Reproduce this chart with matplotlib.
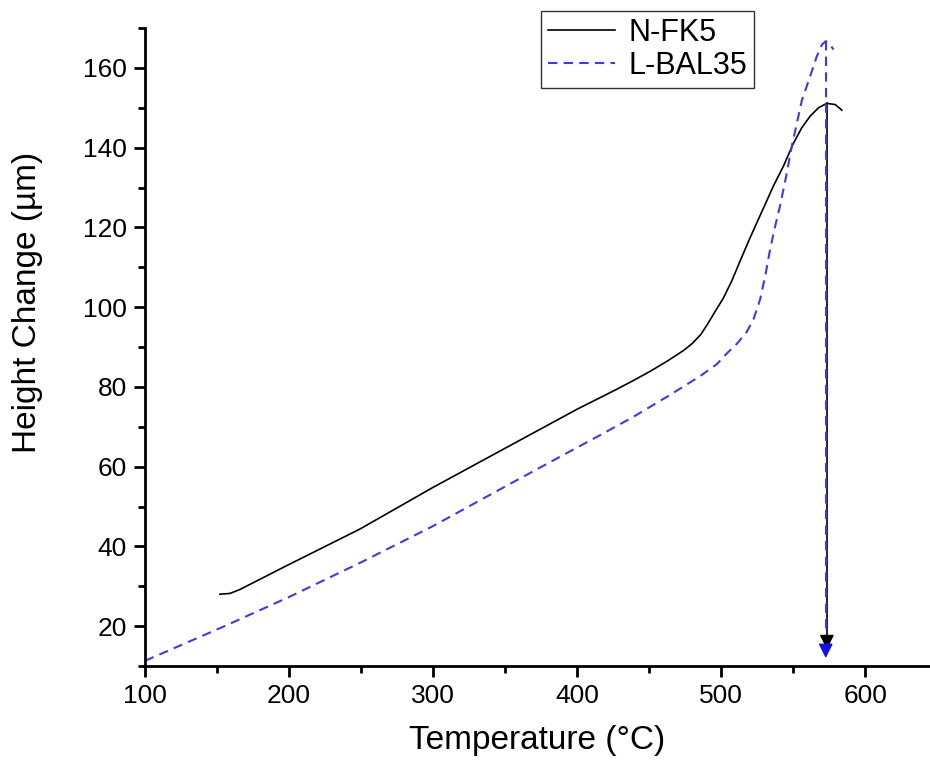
import matplotlib
matplotlib.use("Agg")
import matplotlib.pyplot as plt
from matplotlib.ticker import MultipleLocator
import numpy as np

plt.rcParams['font.family'] = ['Liberation Sans', 'DejaVu Sans']

# N-FK5
nfk5_T = [152, 159, 166, 173, 185, 198, 249, 300, 351, 400, 416.0, 427.5, 439.1, 450.7, 462.3,
          473.8, 480.0, 486.0, 491.0, 495.8, 501.6, 507.4, 513.2, 519.0, 524.8, 530.6, 536.3, 543.3,
          549.8, 556.0, 561.8, 567.6, 573.4, 579.2, 583.8]
nfk5_h = [28.0, 28.2, 29.2, 30.5, 32.7, 35.1, 44.3, 54.8, 64.8, 74.4, 77.3, 79.4, 81.6, 83.9, 86.4,
          89.1, 90.9, 93.2, 96.0, 98.9, 102.3, 106.6, 111.6, 116.5, 121.2, 125.8, 130.4, 135.4,
          140.8, 145.0, 147.9, 150.0, 151.1, 150.8, 149.4]

# L-BAL35
lbal_T = [100, 154, 200, 250, 300, 351, 400, 416.0, 439.1, 462.3, 485.4, 497.0, 504.0, 510.9,
          517.8, 522.5, 527.1, 530.6, 534.0, 537.5, 541.0, 544.4, 549.1, 552.6, 556.0, 561.8,
          566.4, 569.9, 572.6, 575.7, 578.0]
lbal_h = [11.3, 19.8, 27.3, 36.0, 45.1, 55.2, 64.8, 67.9, 72.5, 77.5, 82.7, 85.7, 88.4, 90.8,
          93.8, 97.0, 102.0, 107.8, 114.5, 120.3, 125.6, 131.5, 140.4, 146.2, 151.8, 157.9,
          162.9, 165.8, 166.7, 165.8, 164.6]

# where the drop arrows end
nfk5_drop_end = 13.5
lbal_drop_end = 11.3

black = 'black'
blue = '#3c3ce6'
dash = (0, (4.5, 3))

fig = plt.figure(figsize=(9.3, 7.61), dpi=100)
ax = fig.add_axes([145/930, 1 - 666/761, 1 - 145/930, (666 - 28)/761])

ax.plot(nfk5_T, nfk5_h, color=black, lw=1.2, label='N-FK5')
ax.plot(lbal_T, lbal_h, color=blue, lw=1.5, ls=dash, label='L-BAL35')

# vertical drops from each peak, with arrow heads
i = int(np.argmax(nfk5_h))
x0, y0 = nfk5_T[i], nfk5_h[i]
ax.plot([x0, x0], [y0, nfk5_drop_end + 3], color=black, lw=1.2)
ax.annotate('', xy=(x0, nfk5_drop_end), xytext=(x0, nfk5_drop_end + 4),
            arrowprops=dict(arrowstyle='-|>', color=black, lw=1, mutation_scale=22))

j = int(np.argmax(lbal_h))
x1, y1 = lbal_T[j], lbal_h[j]
ax.plot([x1, x1], [y1, lbal_drop_end + 3], color=blue, lw=1.5, ls=dash)
ax.annotate('', xy=(x1, lbal_drop_end), xytext=(x1, lbal_drop_end + 4),
            arrowprops=dict(arrowstyle='-|>', color='#1010f0', lw=1, mutation_scale=22))

ax.set_xlim(100, 645)
ax.set_ylim(10, 170)
ax.xaxis.set_major_locator(MultipleLocator(100))
ax.xaxis.set_minor_locator(MultipleLocator(50))
ax.yaxis.set_major_locator(MultipleLocator(20))
ax.yaxis.set_minor_locator(MultipleLocator(10))
ax.set_yticks([20, 40, 60, 80, 100, 120, 140, 160])

for s in ['top', 'right']:
    ax.spines[s].set_visible(False)
for s in ['left', 'bottom']:
    ax.spines[s].set_linewidth(2)

ax.tick_params(which='major', direction='out', length=8, width=2, labelsize=19, pad=5)
ax.tick_params(which='minor', direction='out', length=5, width=2)

ax.set_xlabel('Temperature (°C)', fontsize=24, labelpad=12)
ax.set_ylabel('Height Change (µm)', fontsize=24)
ax.yaxis.set_label_coords(-0.13, 0.57)

leg = ax.legend(loc='upper left', bbox_to_anchor=(541/930, 1 - 11/761),
                bbox_transform=fig.transFigure, fontsize=22, frameon=True,
                fancybox=False, handlelength=2.2, borderpad=0.22, labelspacing=0.1,
                handletextpad=0.45, borderaxespad=0)
leg.get_frame().set_edgecolor('black')
leg.get_frame().set_linewidth(1)

fig.savefig('out.png', dpi=100)
